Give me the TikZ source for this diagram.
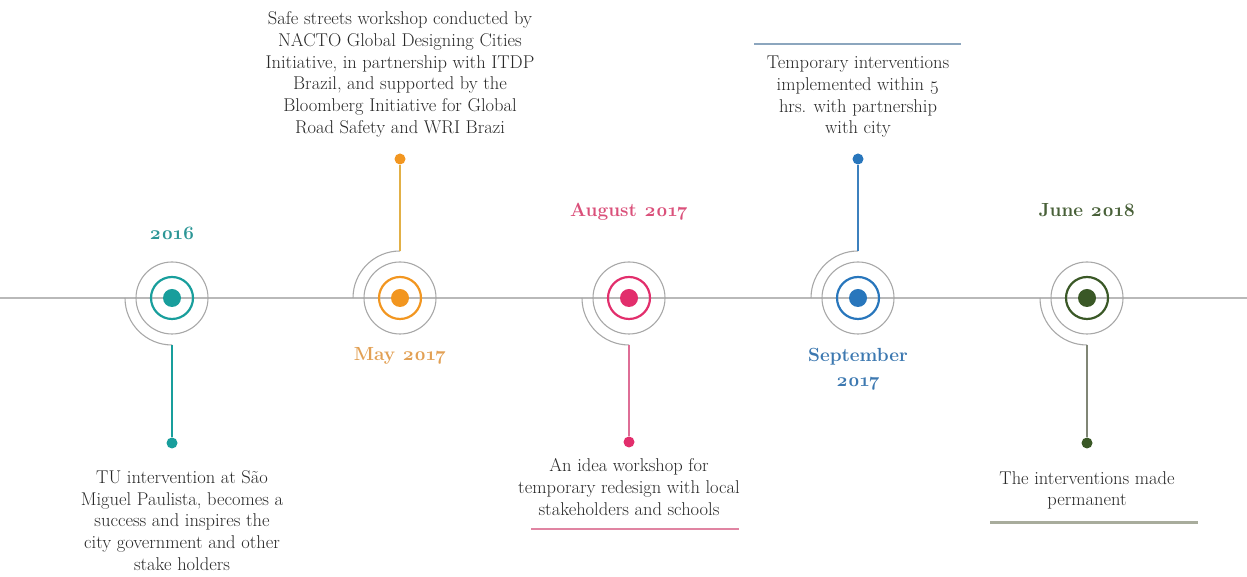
\documentclass[tikz,border=0pt]{standalone}
\usepackage{fontspec}
\setmainfont{Latin Modern Roman}[Numbers=OldStyle]
\definecolor{axisgray}{RGB}{185,185,185}
\definecolor{ringgray}{RGB}{168,168,168}
\definecolor{bodytext}{RGB}{40,40,40}
\definecolor{cteal}{RGB}{24,158,156}
\definecolor{lteal}{RGB}{44,150,150}
\definecolor{corange}{RGB}{242,150,32}
\definecolor{sorange}{RGB}{226,176,70}
\definecolor{lorange}{RGB}{226,160,84}
\definecolor{cpink}{RGB}{226,46,108}
\definecolor{spink}{RGB}{222,110,150}
\definecolor{lpink}{RGB}{218,80,122}
\definecolor{cblue}{RGB}{40,118,188}
\definecolor{sblue}{RGB}{60,128,190}
\definecolor{lblue}{RGB}{60,120,176}
\definecolor{cgreen}{RGB}{58,88,38}
\definecolor{sgreen}{RGB}{128,134,118}
\definecolor{lgreen}{RGB}{72,96,56}
\definecolor{rulblue}{RGB}{140,166,190}
\definecolor{rulpink}{RGB}{224,132,162}
\definecolor{rulgreen}{RGB}{168,172,156}
\begin{document}
\begin{tikzpicture}[x=1pt,y=1pt,
  axis/.style={draw=axisgray, line width=2pt},
  core/.style={circle, fill=#1, minimum size=18pt, inner sep=0pt},
  ring/.style={circle, draw=#1, line width=2.2pt, minimum size=42pt, inner sep=0pt},
  halo/.style={circle, draw=ringgray, line width=1.1pt, minimum size=72pt, inner sep=0pt},
  arcline/.style={draw=ringgray, line width=1.1pt},
  stem/.style={draw=#1, line width=2pt},
  tip/.style={circle, fill=#1, minimum size=11pt, inner sep=0pt},
  body/.style={text=bodytext, align=center, inner sep=0pt,
    font=\fontsize{18.5}{21.7}\selectfont},
  datelabel/.style={text=#1, align=center, inner sep=0pt,
    font=\fontsize{19}{25}\selectfont\bfseries},
  rule/.style={draw=#1, line width=2.5pt}
]
\useasboundingbox (0,0) rectangle (1247,577);

% timeline axis
\draw[axis] (0,279) -- (1247,279);

% ---- 2016 ----
\node[halo] (h1) at (172,279) {};
\node[ring=cteal] (r1) at (172,279) {};
\node[core=cteal] (c1) at (172,279) {};
\coordinate (a1) at (172,232);
\draw[arcline] (a1) arc[start angle=270, end angle=180, radius=47];
\node[tip=cteal] (p1) at (172,134) {};
\draw[stem=cteal] (a1) -- (p1);
\node[datelabel=lteal, anchor=base] (d1) at (172,337) {2016};
\node[body] (t1) at (182,56.5) {TU intervention at São\\Miguel Paulista, becomes a\\success and inspires the\\city government and other\\stake holders};

% ---- May 2017 ----
\node[halo] (h2) at (400,279) {};
\node[ring=corange] (r2) at (400,279) {};
\node[core=corange] (c2) at (400,279) {};
\coordinate (a2) at (400,326);
\draw[arcline] (a2) arc[start angle=90, end angle=180, radius=47];
\node[tip=corange] (p2) at (400,418) {};
\draw[stem=sorange] (a2) -- (p2);
\node[datelabel=lorange, anchor=base] (d2) at (400,216) {May 2017};
\node[body] (t2) at (400,502.5) {Safe streets workshop conducted by\\NACTO Global Designing Cities\\Initiative, in partnership with ITDP\\Brazil, and supported by the\\Bloomberg Initiative for Global\\Road Safety and WRI Brazi};

% ---- August 2017 ----
\node[halo] (h3) at (629,279) {};
\node[ring=cpink] (r3) at (629,279) {};
\node[core=cpink] (c3) at (629,279) {};
\coordinate (a3) at (629,232);
\draw[arcline] (a3) arc[start angle=270, end angle=180, radius=47];
\node[tip=cpink] (p3) at (629,135) {};
\draw[stem=spink] (a3) -- (p3);
\node[datelabel=lpink, anchor=base] (d3) at (629,360) {August 2017};
\node[body] (t3) at (629,90) {An idea workshop for\\temporary redesign with local\\stakeholders and schools};
\draw[rule=rulpink, line width=2pt] (531,48) -- (739,48);

% ---- September 2017 ----
\node[halo] (h4) at (858,279) {};
\node[ring=cblue] (r4) at (858,279) {};
\node[core=cblue] (c4) at (858,279) {};
\coordinate (a4) at (858,326);
\draw[arcline] (a4) arc[start angle=90, end angle=180, radius=47];
\node[tip=cblue] (p4) at (858,418) {};
\draw[stem=sblue] (a4) -- (p4);
\node[datelabel=lblue, anchor=north] (d4) at (858,229) {September\\2017};
\node[body] (t4) at (858,480) {Temporary interventions\\implemented within 5\\hrs. with partnership\\with city};
\draw[rule=rulblue] (754,533) -- (961,533);

% ---- June 2018 ----
\node[halo] (h5) at (1087,279) {};
\node[ring=cgreen] (r5) at (1087,279) {};
\node[core=cgreen] (c5) at (1087,279) {};
\coordinate (a5) at (1087,232);
\draw[arcline] (a5) arc[start angle=270, end angle=180, radius=47];
\node[tip=cgreen] (p5) at (1087,134) {};
\draw[stem=sgreen] (a5) -- (p5);
\node[datelabel=lgreen, anchor=base] (d5) at (1087,360) {June 2018};
\node[body] (t5) at (1087,86.5) {The interventions made\\permanent};
\draw[rule=rulgreen, line width=3pt] (990,54) -- (1198,54);
\end{tikzpicture}
\end{document}
